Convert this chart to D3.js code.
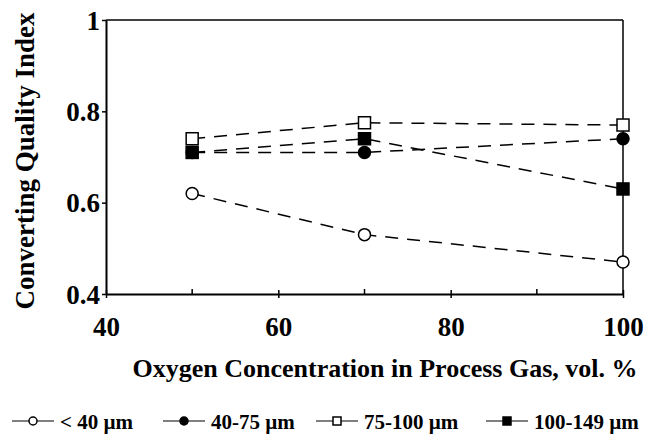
<!DOCTYPE html>
<html>
<head>
<meta charset="utf-8">
<script src="https://cdn.jsdelivr.net/npm/d3@7"></script>
<style>
  body { margin: 0; background: #fff; }
  svg { font-family: "Liberation Serif", "DejaVu Serif", serif; font-weight: bold; }
</style>
</head>
<body>
<div id="figure"></div>
<script>
// data
var oxygen = [50, 70, 100];
var seriesNames = ["< 40 \u00b5m", "40-75 \u00b5m", "75-100 \u00b5m", "100-149 \u00b5m"];
var below40 = [0.62, 0.53, 0.47];
var from40to75 = [0.71, 0.71, 0.74];
var from75to100 = [0.74, 0.775, 0.77];
var from100to149 = [0.71, 0.74, 0.63];
var xTicks = [40, 60, 80, 100];
var xMinorTicks = [50, 70, 90];
var yTicks = [0.4, 0.6, 0.8, 1];

var markers = ["circle-open", "circle-filled", "square-open", "square-filled"];
var allSeries = [below40, from40to75, from75to100, from100to149];

var w = 658, h = 439;
var mLeft = 106, mRight = 623, mTop = 20, mBottom = 294;

var svg = d3.select("#figure").append("svg")
    .attr("width", w)
    .attr("height", h);

var xScale = d3.scaleLinear().domain([40, 100]).range([mLeft, mRight]);
var yScale = d3.scaleLinear().domain([0.4, 1]).range([mBottom, mTop]);

// frame (top and right)
svg.append("line")
    .attr("x1", mLeft).attr("x2", mRight)
    .attr("y1", mTop).attr("y2", mTop)
    .attr("stroke", "#000").attr("stroke-width", 1.5);
svg.append("line")
    .attr("x1", mRight).attr("x2", mRight)
    .attr("y1", mTop).attr("y2", mBottom)
    .attr("stroke", "#000").attr("stroke-width", 1.5);

// x axis
var xAxis = d3.axisBottom(xScale)
    .tickValues(xTicks)
    .tickSize(4)
    .tickSizeOuter(0)
    .tickFormat(d3.format("d"));
var gx = svg.append("g")
    .attr("transform", "translate(0," + mBottom + ")")
    .call(xAxis);
gx.select(".domain").attr("stroke-width", 2);
gx.selectAll(".tick line").attr("y1", -4).attr("stroke-width", 1.5);
gx.selectAll(".tick text")
    .attr("dy", 0).attr("y", 42)
    .style("font-size", "27px")
    .style("font-family", "Liberation Serif")
    .style("font-weight", "bold");

gx.selectAll(".minor")
    .data(xMinorTicks)
    .enter()
    .append("line")
    .attr("x1", function(d) { return xScale(d); })
    .attr("x2", function(d) { return xScale(d); })
    .attr("y1", 0).attr("y2", -5)
    .attr("stroke", "#000").attr("stroke-width", 1.5);

// y axis
var yAxis = d3.axisLeft(yScale)
    .tickValues(yTicks)
    .tickSize(4)
    .tickSizeOuter(0)
    .tickFormat(function(d) { return d === 1 ? "1" : d3.format(".1f")(d); });
var gy = svg.append("g")
    .attr("transform", "translate(" + mLeft + ",0)")
    .call(yAxis);
gy.select(".domain").attr("stroke-width", 2);
gy.selectAll(".tick line").attr("stroke-width", 1.5);
gy.selectAll(".tick text")
    .attr("x", -6).attr("dy", "0.34em")
    .style("font-size", "27px")
    .style("font-family", "Liberation Serif")
    .style("font-weight", "bold");

// axis titles
svg.append("text")
    .attr("x", 385)
    .attr("y", 377)
    .attr("text-anchor", "middle")
    .style("font-size", "26px")
    .text("Oxygen Concentration in Process Gas, vol. %");

svg.append("text")
    .attr("transform", "translate(34,161) rotate(-90)")
    .attr("text-anchor", "middle")
    .style("font-size", "27px")
    .text("Converting Quality Index");

// lines
var line = d3.line()
    .x(function(d, i) { return xScale(oxygen[i]); })
    .y(function(d) { return yScale(d); });

allSeries.forEach(function(values) {
    svg.append("path")
        .datum(values)
        .attr("d", line)
        .attr("fill", "none")
        .attr("stroke", "#000")
        .attr("stroke-width", 1.5)
        .attr("stroke-dasharray", "13,9");
});

function drawMarker(g, type, cx, cy, size) {
    var filled = type.indexOf("filled") >= 0 ? "#000" : "#fff";
    if (type.indexOf("circle") === 0) {
        g.append("circle")
            .attr("cx", cx).attr("cy", cy).attr("r", size / 2)
            .attr("fill", filled).attr("stroke", "#000").attr("stroke-width", 1.5);
    } else {
        g.append("rect")
            .attr("x", cx - size / 2).attr("y", cy - size / 2)
            .attr("width", size).attr("height", size)
            .attr("fill", filled).attr("stroke", "#000").attr("stroke-width", 1.5);
    }
}

var pts = svg.append("g");
allSeries.forEach(function(values, s) {
    values.forEach(function(v, i) {
        drawMarker(pts, markers[s], xScale(oxygen[i]), yScale(v), 12);
    });
});

// legend
var legendX = [12, 163, 316, 486];
var legend = svg.append("g");
seriesNames.forEach(function(name, s) {
    var lx = legendX[s];
    var ly = 421;
    legend.append("line")
        .attr("x1", lx).attr("x2", lx + 42)
        .attr("y1", ly).attr("y2", ly)
        .attr("stroke", "#000").attr("stroke-width", 1.2);
    drawMarker(legend, markers[s], lx + 21, ly, 8);
    legend.append("text")
        .attr("x", lx + 48)
        .attr("y", ly + 8)
        .style("font-size", "21px")
        .text(name);
});
</script>
</body>
</html>
